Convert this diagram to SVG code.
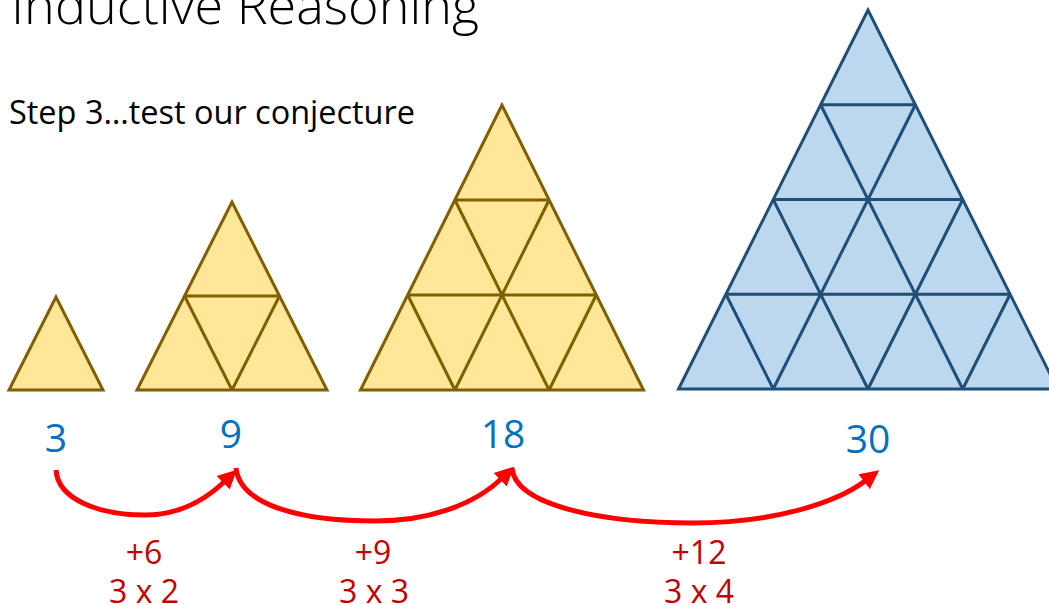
<svg xmlns="http://www.w3.org/2000/svg" width="1049" height="605" viewBox="0 0 1049 605">
<style>
.title{font-family:"Open Sans","Liberation Sans",sans-serif;font-weight:300;fill:#000}
.step{font-family:"Open Sans","Liberation Sans",sans-serif;font-size:32px;fill:#000}
.num{font-family:"Open Sans","Liberation Sans",sans-serif;font-size:39px;fill:#0070C0;text-anchor:middle}
.lbl{font-family:"Open Sans","Liberation Sans",sans-serif;font-size:32px;fill:#C00000;text-anchor:middle}
.y{fill:#FFE699;stroke:#7F6000;stroke-width:3;stroke-linejoin:miter}
.yl{stroke:#7F6000;stroke-width:3;fill:none}
.b{fill:#BDD7EE;stroke:#1F4E79;stroke-width:3;stroke-linejoin:miter}
.bl{stroke:#1F4E79;stroke-width:3;fill:none}
.arc{fill:none;stroke:#FF0000;stroke-width:5}
</style>
<defs>
<marker id="ah" markerUnits="userSpaceOnUse" markerWidth="20" markerHeight="20" refX="1" refY="0" viewBox="0 -9 18 18" orient="auto">
<path d="M0,-8.5 L17,0 L0,8.5 Z" fill="#FF0000"/>
</marker>
</defs>
<text class="title" x="11" y="24" font-size="52" textLength="468" lengthAdjust="spacingAndGlyphs">Inductive Reasoning</text>
<text class="step" x="9" y="124" textLength="406" lengthAdjust="spacingAndGlyphs">Step 3…test our conjecture</text>

<g id="tri1">
<polygon class="y" points="56,297 9,390 103,390"/>
</g>
<g id="tri2">
<polygon class="y" points="232,202 137,390 327,390"/>
<path class="yl" d="M184.5,296 H279.5 M279.5,296 L232,390 M184.5,296 L232,390"/>
</g>
<g id="tri3">
<polygon class="y" points="502,105 360.5,390 643.5,390"/>
<path class="yl" d="M454.9,200 H549.1 M407.7,295 H596.3 M549.1,200 L454.9,390 M596.3,295 L549.1,390 M454.9,200 L549.1,390 M407.7,295 L454.9,390"/>
</g>
<g id="tri4">
<polygon class="b" points="868,10 678.5,389 1057.5,389"/>
<path class="bl" d="M820.6,104.75 H915.4 M773.25,199.5 H962.75 M725.9,294.25 H1010.1 M915.4,104.75 L773.25,389 M962.75,199.5 L868,389 M1010.1,294.25 L962.75,389 M820.6,104.75 L962.75,389 M773.25,199.5 L868,389 M725.9,294.25 L773.25,389"/>
</g>

<g id="numbers">
<text class="num" x="56" y="452">3</text>
<text class="num" x="231" y="448">9</text>
<text class="num" x="503" y="448">18</text>
<text class="num" x="868" y="453">30</text>
</g>

<g id="connectors">
<path class="arc" marker-end="url(#ah)" d="M56,470 C58,500 100,515 145,515 C180,515 205,500 224,482"/>
<path class="arc" marker-end="url(#ah)" d="M236,468 C240,505 300,521 375,521 C430,521 475,504 501,479"/>
<path class="arc" marker-end="url(#ah)" d="M512,468 C515,505 600,523 693,523 C780,523 840,500 865,481"/>
</g>

<g id="labels">
<text class="lbl" x="144" y="564">+6</text>
<text class="lbl" x="144" y="603">3 x 2</text>
<text class="lbl" x="373" y="564">+9</text>
<text class="lbl" x="374" y="603">3 x 3</text>
<text class="lbl" x="699" y="564">+12</text>
<text class="lbl" x="699" y="603">3 x 4</text>
</g>
</svg>
